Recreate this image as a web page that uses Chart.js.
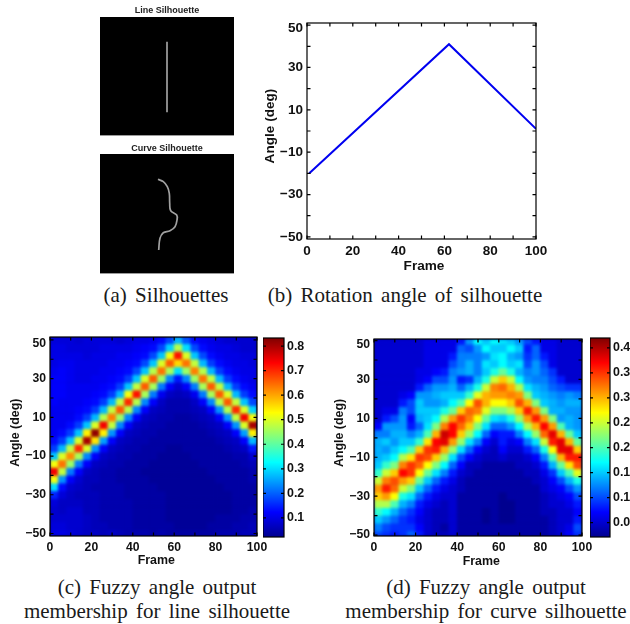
<!DOCTYPE html>
<html><head><meta charset="utf-8">
<script src="https://cdn.jsdelivr.net/npm/chart.js@4"></script>
<style>
html,body{margin:0;padding:0;background:#fff;width:630px;height:624px;overflow:hidden}
canvas{position:absolute;display:block}
.heat{position:absolute;overflow:hidden;background:#00008a}
.heat canvas{left:0;top:0;filter:blur(1.6px)}
.cap{position:absolute;font-family:"Liberation Serif",serif;font-size:21px;word-spacing:3px;color:#1a1a1a;white-space:nowrap;transform:translate(-50%,-50%);line-height:1}
</style></head><body>
<div class="cap" style="left:166px;top:295px">(a) Silhouettes</div>
<div class="cap" style="left:405px;top:295px">(b) Rotation angle of silhouette</div>
<div class="cap" style="left:157px;top:587px">(c) Fuzzy angle output</div>
<div class="cap" style="left:157px;top:611px">membership for line silhouette</div>
<div class="cap" style="left:486px;top:587px">(d) Fuzzy angle output</div>
<div class="cap" style="left:486px;top:611px">membership for curve silhouette</div>
<script>
// ---------- values ----------
const lineSilX=[67,67];
const lineSilY=[25,96];
const curveSilX=[58,63.3,67.3,69.3,69.7,70.7,76.7,77,75,70,63.3,60,58.7];
const curveSilY=[25.3,27.7,32.7,39.3,49.3,56.7,61,66,72.7,76.7,78.7,84.3,96];
const rotFrames=[1,62,100];
const rotAngles=[-20,41,1];
const frameTicks=[0,10,20,30,40,50,60,70,80,90,100];
const frameLabels=[0,20,40,60,80,100];
const angleTicks=[-50,-40,-30,-20,-10,0,10,20,30,40,50];
const angleLabels=[-50,-30,-10,10,30,50];
const heatFrames=[2,6,10,14,18,22,26,30,34,38,42,46,50,54,58,62,66,70,74,78,82,86,90,94,98];
const heatAngles=[50,46,42,38,34,30,26,22,18,14,10,6,2,-2,-6,-10,-14,-18,-22,-26,-30,-34,-38,-42,-46,-50];
const lineBarTicks=[0.1,0.2,0.3,0.4,0.5,0.6,0.7,0.8];
const lineBarLabels=["0.1","0.2","0.3","0.4","0.5","0.6","0.7","0.8"];
const curveBarTicks=[0.05,0.10,0.15,0.20,0.25,0.30,0.35,0.40];
const curveBarLabels=["0.0","0.1","0.1","0.2","0.2","0.3","0.3","0.4"];
// membership x100: one list per angle row, frames left to right
const lineRows=[
[9,9,9,8,9,9,9,9,8,9,10,10,11,13,18,27,19,13,11,10,9,8,8,8,8],
[10,10,9,9,9,9,10,10,10,10,11,12,13,18,29,47,30,18,13,11,10,10,9,8,8],
[10,10,10,10,9,10,10,10,11,11,12,13,18,28,52,72,50,28,18,13,11,10,10,9,9],
[10,11,11,10,10,10,10,11,11,12,13,18,28,50,66,56,64,48,27,17,13,11,10,10,9],
[11,12,11,10,10,10,11,11,12,13,18,28,47,64,46,30,45,63,47,27,17,13,11,10,10],
[12,12,11,10,10,11,11,12,13,17,28,50,66,45,23,14,23,45,64,48,27,17,13,11,10],
[12,12,11,11,11,11,12,13,17,28,48,66,46,22,12,8,12,22,46,66,48,27,17,13,11],
[12,12,11,11,11,12,13,17,27,52,72,46,22,11,7,6,7,11,22,46,66,50,27,17,13],
[12,11,11,11,12,13,17,27,48,70,47,23,12,7,5,5,5,7,12,23,47,66,48,28,18],
[11,11,11,12,13,17,27,48,66,47,23,12,7,6,5,5,5,6,7,12,24,47,70,50,29],
[11,11,11,13,17,27,47,63,45,23,12,7,6,5,5,4,4,5,6,7,12,24,48,74,52],
[11,11,13,17,28,50,74,48,23,12,7,6,5,5,4,4,4,4,5,6,7,12,24,50,80],
[11,13,17,28,54,82,54,24,12,7,6,5,5,4,4,4,4,4,4,5,6,7,12,25,54],
[13,17,28,50,80,55,25,12,7,6,5,5,4,4,4,4,4,4,4,4,5,6,7,12,27],
[17,27,48,70,50,24,12,7,6,5,5,4,4,4,3,3,4,4,4,4,4,5,6,7,14],
[28,50,62,46,23,12,7,6,5,5,4,4,4,3,3,3,3,4,4,4,4,4,5,5,8],
[52,64,45,22,12,7,6,5,5,4,4,4,3,3,3,3,3,3,4,4,4,4,4,5,6],
[74,48,22,12,7,6,5,5,4,4,4,3,3,3,3,3,3,3,3,4,4,4,4,4,5],
[52,24,12,8,6,6,5,5,4,4,4,4,3,3,3,3,3,3,3,3,4,4,4,4,5],
[30,13,8,7,6,5,5,5,5,4,4,4,4,3,3,3,3,3,3,3,3,4,4,4,4],
[15,9,7,6,6,6,5,5,5,4,4,4,4,4,3,3,3,3,3,3,3,3,4,4,4],
[9,7,7,7,6,6,5,5,5,5,4,4,4,4,3,3,3,3,3,3,3,3,4,4,4],
[8,7,8,8,6,6,5,5,5,5,4,4,4,4,3,3,3,3,3,3,3,3,4,4,5],
[8,8,8,8,7,6,5,5,5,5,4,4,4,4,3,3,3,3,3,3,4,4,4,5,5],
[9,9,8,8,7,6,6,5,5,5,4,4,4,4,4,3,3,3,3,4,4,4,5,5,6],
[10,10,9,8,7,7,6,7,6,5,5,5,4,5,4,4,4,4,4,4,5,5,5,6,6]
];
// membership x100: one list per frame, angles top to bottom
const curveCols=[
[5,5,5,5,5,5,5,5,5,5,5,7,12,14,14,14,15,19,25,31,29,24,19,15,12,10],
[5,5,5,5,5,5,5,5,5,6,8,13,12,15,13,15,19,25,32,36,31,24,17,13,10,9],
[5,5,5,5,5,5,5,5,5,6,10,13,14,13,15,17,22,29,34,33,27,20,14,11,9,8],
[5,5,5,5,5,5,5,6,8,12,13,13,14,15,17,24,32,37,31,25,18,14,11,9,9,9],
[5,5,5,5,5,5,5,7,10,10,7,8,12,15,20,28,35,35,29,22,16,12,9,8,9,11],
[5,5,5,5,6,6,8,13,15,15,14,11,14,19,29,35,33,27,21,15,11,8,7,6,7,8],
[6,6,6,6,6,7,11,13,13,15,15,16,20,28,35,34,27,21,15,11,8,6,5,5,5,5],
[6,6,6,6,7,10,13,14,13,15,17,22,30,37,36,29,22,16,11,8,6,5,4,4,4,4],
[6,6,6,6,8,10,13,15,14,18,24,32,39,38,30,23,17,12,8,6,5,4,4,4,3,4],
[6,6,8,10,12,13,14,15,17,21,31,37,37,31,23,16,11,8,6,5,5,5,5,5,5,5],
[8,11,12,12,13,8,11,15,20,29,35,33,29,23,16,10,7,5,4,4,3,3,3,3,3,3],
[13,10,12,14,14,9,14,19,27,33,32,29,23,16,11,7,4,4,3,3,3,3,3,3,3,3],
[17,13,12,12,12,14,18,26,34,32,27,22,17,12,7,5,4,3,3,3,3,3,3,3,3,3],
[15,17,13,16,15,18,25,30,30,26,21,16,11,7,5,4,3,3,3,3,3,3,2,2,3,3],
[17,15,16,15,18,25,32,31,27,22,16,11,7,5,4,4,3,3,3,3,3,3,3,3,3,3],
[16,15,17,17,21,29,33,31,27,22,15,11,8,8,7,5,3,3,3,3,2,2,2,2,3,3],
[15,17,14,15,18,25,30,32,29,24,18,13,8,6,5,4,3,3,3,3,3,2,2,2,3,3],
[13,15,13,16,14,17,24,31,34,29,23,17,12,7,5,4,4,3,3,3,3,3,3,3,3,3],
[10,8,9,10,12,13,16,22,30,36,31,24,17,12,8,5,4,4,3,3,3,3,3,3,3,3],
[8,11,11,13,13,12,14,15,22,31,36,30,23,16,11,7,5,4,4,3,3,3,3,3,3,3],
[6,6,8,10,11,12,13,14,15,22,31,37,33,25,18,12,8,6,5,5,4,4,4,3,3,3],
[6,6,6,6,9,10,11,13,14,14,22,31,38,36,27,20,14,9,7,6,5,5,4,4,4,4],
[5,5,5,5,5,8,10,12,13,14,13,20,30,38,38,30,21,15,10,7,6,5,5,5,5,5],
[5,5,5,5,5,5,9,13,14,13,14,14,21,30,38,36,28,20,14,10,7,6,5,5,6,7],
[5,5,5,5,5,5,9,12,14,13,13,13,15,21,29,36,34,26,18,13,10,8,7,8,10,9]
];
// ---------- helpers ----------
Chart.defaults.animation=false;
Chart.defaults.responsive=false;
Chart.defaults.font.family='"Liberation Sans",Arial,sans-serif';
Chart.defaults.font.weight='bold';
Chart.defaults.color='#111';
Chart.defaults.plugins.legend.display=false;
Chart.defaults.plugins.tooltip.enabled=false;

function mkCanvas(l,t,w,h,parent){
  const c=document.createElement('canvas');c.width=w;c.height=h;
  c.style.left=l+'px';c.style.top=t+'px';c.style.width=w+'px';c.style.height=h+'px';
  (parent||document.body).appendChild(c);return c.getContext('2d');
}
const jetStops=[[0,0,0,143],[0.125,0,0,255],[0.375,0,255,255],[0.625,255,255,0],[0.875,255,0,0],[1,128,0,0]];
function jet(f){
  f=Math.max(0,Math.min(1,f));
  for(let i=1;i<jetStops.length;i++){
    const a=jetStops[i-1],b=jetStops[i];
    if(f<=b[0]){const k=(f-a[0])/(b[0]-a[0]);
      return `rgb(${Math.round(a[1]+k*(b[1]-a[1]))},${Math.round(a[2]+k*(b[2]-a[2]))},${Math.round(a[3]+k*(b[3]-a[3]))})`;}
  }
}
const framePlugin={id:'framePlugin',afterDraw(chart,_,o){
  const {ctx,chartArea:a}=chart;ctx.save();ctx.strokeStyle='#000';ctx.lineWidth=o.lw||1.2;
  const len=o.len||3.5;
  ctx.strokeRect(a.left,a.top,a.right-a.left,a.bottom-a.top);
  ctx.beginPath();
  for(const id in chart.scales){const s=chart.scales[id];if(!s.options.display)continue;
    const marks=s.isHorizontal()?s.ticks.map(t=>t.value):(o.yMarks||s.ticks.map(t=>t.value));
    for(const v of marks){const p=s.getPixelForValue(v);
      if(s.isHorizontal()){ctx.moveTo(p,a.bottom);ctx.lineTo(p,a.bottom-len);ctx.moveTo(p,a.top);ctx.lineTo(p,a.top+len);}
      else{ctx.moveTo(a.left,p);ctx.lineTo(a.left+len,p);ctx.moveTo(a.right,p);ctx.lineTo(a.right-len,p);}
    }}
  ctx.stroke();
  ctx.fillStyle='#111';ctx.textAlign='center';ctx.textBaseline='middle';
  if(o.xTitle){ctx.font=`bold ${o.titleSize}px "Liberation Sans"`;ctx.fillText(o.xTitle,o.xTitleX,o.xTitleY);}
  if(o.yTitle){ctx.font=`bold ${o.titleSize}px "Liberation Sans"`;ctx.translate(o.yTitleX,o.yTitleY);ctx.rotate(-Math.PI/2);ctx.fillText(o.yTitle,0,0);}
  ctx.restore();
}};
// axes on a canvas cr={l,t,w,h} with the plot at p={l,r,t,b}; title positions are page coordinates.
// topAnchor: where the "50" text sits, slightly inside the frame as in the reference.
function axesChart(cr,p,ym,topAnchor,size,pad,datasets,title){
  const ctx=mkCanvas(cr.l,cr.t,cr.w,cr.h);
  const tt={xTitle:title.xTitle,yTitle:title.yTitle,xTitleX:title.xTitleX-cr.l,xTitleY:title.xTitleY-cr.t,yTitleX:title.yTitleX-cr.l,yTitleY:title.yTitleY-cr.t,titleSize:size.title,yMarks:angleTicks};
  return new Chart(ctx,{type:'scatter',data:{datasets},plugins:[framePlugin],options:{
    layout:{padding:{top:p.t-cr.t,right:cr.l+cr.w-p.r,left:0,bottom:0}},
    plugins:{framePlugin:tt},
    scales:{
      x:{type:'linear',min:0,max:100,grid:{display:false,drawTicks:false},border:{display:false},
        ticks:{autoSkip:false,maxRotation:0,padding:pad.x,font:{size:size.tick},callback:v=>frameLabels.includes(v)?String(v):''},
        afterBuildTicks:s=>{s.ticks=frameTicks.map(v=>({value:v}));},
        afterFit:s=>{s.height=cr.t+cr.h-p.b;s.paddingLeft=0;s.paddingRight=0;}},
      y:{type:'linear',min:ym[0],max:ym[1],grid:{display:false,drawTicks:false},border:{display:false},
        ticks:{autoSkip:false,padding:pad.y,font:{size:size.tick},callback:v=>v===topAnchor?'50':(angleLabels.includes(v)?String(v).replace('-','\u2212'):'')},
        afterBuildTicks:s=>{s.ticks=angleLabels.filter(v=>v!==50).concat([topAnchor]).map(v=>({value:v}));},
        afterFit:s=>{s.width=p.l-cr.l;s.paddingTop=0;s.paddingBottom=0;}}
    }}});
}
function heatChart(p,ym,range,rowsAt){
  const w=p.r-p.l,h=p.b-p.t;
  const box=document.createElement('div');box.className='heat';
  box.style.cssText=`left:${p.l}px;top:${p.t}px;width:${w}px;height:${h}px`;
  document.body.appendChild(box);
  const ctx=mkCanvas(0,0,w,h,box);
  const datasets=heatAngles.map((ang,j)=>({
    data:heatFrames.map(f=>({x:f,y:[ang-2.1,ang+2.1]})),
    backgroundColor:heatFrames.map((f,i)=>jet((rowsAt(j,i)/100-range[0])/(range[1]-range[0]))),
    borderWidth:0,grouped:false,barPercentage:1.08,categoryPercentage:1
  }));
  return new Chart(ctx,{type:'bar',data:{datasets},options:{
    layout:{padding:0},
    scales:{x:{type:'linear',display:false,offset:false,min:0,max:100},y:{type:'linear',display:false,min:ym[0],max:ym[1]}}
  }});
}
function colorbar(cr,p,range,ticks,labels,size){
  const ctx=mkCanvas(cr.l,cr.t,cr.w,cr.h);
  return new Chart(ctx,{type:'bar',plugins:[framePlugin],data:{labels:['colour'],datasets:[{
    data:[[range[0],range[1]]],borderWidth:0,barPercentage:1,categoryPercentage:1,
    backgroundColor:c=>{const a=c.chart.chartArea;if(!a)return '#00f';
      const g=c.chart.ctx.createLinearGradient(0,a.bottom,0,a.top);
      jetStops.forEach(s=>g.addColorStop(s[0],`rgb(${s[1]},${s[2]},${s[3]})`));return g;}
  }]},options:{
    layout:{padding:{top:p.t-cr.t,left:p.l-cr.l,right:0,bottom:cr.t+cr.h-p.b}},
    plugins:{framePlugin:{len:3,lw:1.2}},
    scales:{
      x:{display:false},
      y:{type:'linear',position:'right',min:range[0],max:range[1],grid:{display:false,drawTicks:false},border:{display:false},
        ticks:{autoSkip:false,padding:3,font:{size},callback:v=>{const i=ticks.findIndex(t=>Math.abs(t-v)<1e-6);return i<0?'':labels[i];}},
        afterBuildTicks:s=>{s.ticks=ticks.map(v=>({value:v}));},
        afterFit:s=>{s.width=cr.l+cr.w-p.r;s.paddingTop=0;s.paddingBottom=0;}}
    }}});
}
function silhouette(cr,xs,ys,title,pad,tension){
  const ctx=mkCanvas(cr.l,cr.t,cr.w,cr.h);
  const bg={id:'bg',beforeDraw(ch){const a=ch.chartArea,c=ch.ctx;c.fillStyle='#000';c.fillRect(a.left,a.top,a.right-a.left,a.bottom-a.top);
    c.fillStyle='#9a9a9a';c.fillRect(a.left,a.bottom-1,a.right-a.left,1);}};
  return new Chart(ctx,{type:'scatter',plugins:[bg],data:{datasets:[{
    data:xs.map((x,i)=>({x,y:ys[i]})),showLine:true,pointRadius:0,borderColor:'#a0a0a0',borderWidth:1.7,tension
  }]},options:{
    layout:{padding:0},
    plugins:{title:{display:true,text:title,color:'#222',font:{size:9,weight:'bold',lineHeight:1},padding:pad}},
    scales:{x:{display:false,min:0,max:134},y:{display:false,reverse:true,min:0,max:120}}
  }});
}
// ---------- panels ----------
silhouette({l:100,t:3,w:134,h:133},lineSilX,lineSilY,'Line Silhouette',{top:3.2,bottom:1.8},0);
silhouette({l:100,t:140,w:134,h:134},curveSilX,curveSilY,'Curve Silhouette',{top:4.5,bottom:0.5},0.4);

axesChart({l:255,t:10,w:295,h:270},{l:307,r:536,t:23,b:239},[-51,51],48.5,{tick:13.5,title:13.6},{x:4,y:4},
  [{data:rotFrames.map((x,i)=>({x,y:rotAngles[i]})),showLine:true,pointRadius:0,borderColor:'#0000f0',borderWidth:2}],
  {xTitle:'Frame',xTitleX:424,xTitleY:266.5,yTitle:'Angle (deg)',yTitleX:270.5,yTitleY:126});

const pC={l:50,r:257,t:337,b:536},ymC=[-51.3,51.5];
heatChart(pC,ymC,[0.022,0.833],(j,i)=>lineRows[j][i]);
axesChart({l:5,t:330,w:262,h:240},pC,ymC,48.2,{tick:12.2,title:12.4},{x:4,y:4},[],
  {xTitle:'Frame',xTitleX:156.3,xTitleY:560.7,yTitle:'Angle (deg)',yTitleX:15.3,yTitleY:432.7});
colorbar({l:263,t:330,w:50,h:215},{l:263,r:284,t:338,b:537},[0.022,0.833],lineBarTicks,lineBarLabels,12.4);

const pD={l:374,r:582,t:339,b:536},ymD=[-50.5,50.8];
heatChart(pD,ymD,[0.021,0.42],(j,i)=>curveCols[i][j]);
axesChart({l:330,t:330,w:262,h:240},pD,ymD,47.7,{tick:12.2,title:12.4},{x:4,y:4},[],
  {xTitle:'Frame',xTitleX:481.3,xTitleY:561.7,yTitle:'Angle (deg)',yTitleX:340,yTitleY:433});
colorbar({l:590,t:330,w:40,h:215},{l:590,r:610,t:338,b:537},[0.021,0.42],curveBarTicks,curveBarLabels,12.4);
</script></body></html>
